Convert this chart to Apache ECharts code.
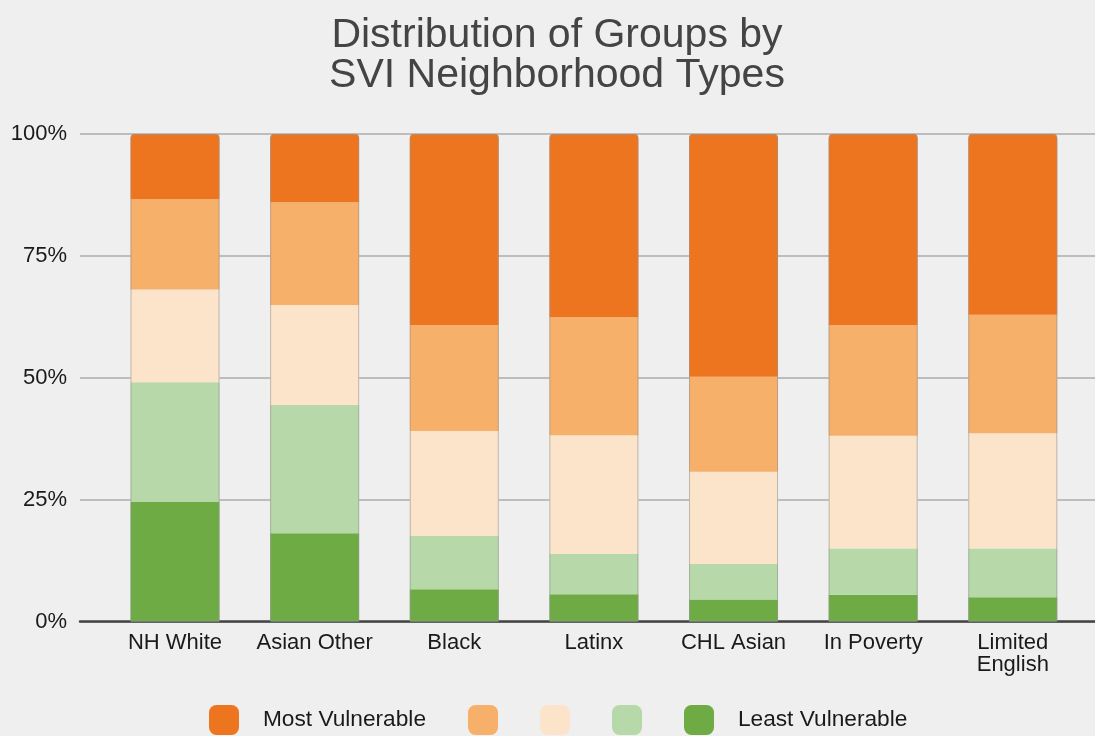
<!DOCTYPE html>
<html>
<head>
<meta charset="utf-8">
<script src="https://cdn.jsdelivr.net/npm/echarts@6/dist/echarts.min.js"></script>
<style>
html,body{margin:0;padding:0;background:#efefef;}
#chart{width:1095px;height:736px;}
</style>
</head>
<body>
<div id="chart"></div>
<script>
const categories = ['NH White', 'Asian Other', 'Black', 'Latinx', 'CHL Asian', 'In Poverty', 'Limited\nEnglish'];
const yTicks = [0, 25, 50, 75, 100];
const leastVulnerable = [24.5, 18.1, 6.6, 5.6, 4.5, 5.5, 5.0];
const level2 = [24.6, 26.3, 11.0, 8.3, 7.3, 9.5, 10.0];
const level3 = [19.0, 20.5, 21.5, 24.3, 18.9, 23.1, 23.6];
const level4 = [18.5, 21.1, 21.7, 24.2, 19.5, 22.7, 24.3];
const mostVulnerable = [13.4, 14.0, 39.2, 37.6, 49.8, 39.2, 37.1];
const totals = [100, 100, 100, 100, 100, 100, 100];

const colors = {
  most: '#ee7520',
  l4: '#f6b06a',
  l3: '#fce4cb',
  l2: '#b7d8a8',
  least: '#6eab45'
};

const FONT = 'Liberation Sans, Arial, sans-serif';
const chart = echarts.init(document.getElementById('chart'));

function seg(name, data, color, top) {
  return {
    name: name, type: 'bar', stack: 'svi', data: data,
    xAxisIndex: 1, yAxisIndex: 1,
    barWidth: 89,
    itemStyle: { color: color, borderRadius: top ? [4, 4, 0, 0] : 0 },
    emphasis: { disabled: true },
    z: 3
  };
}

chart.setOption({
  backgroundColor: '#efefef',
  animation: false,
  textStyle: { fontFamily: FONT },
  title: {
    text: 'Distribution of Groups by\nSVI Neighborhood Types',
    left: 557, top: 16, textAlign: 'center', padding: 0,
    textStyle: { fontFamily: FONT, fontSize: 41, fontWeight: 'normal', color: '#444', lineHeight: 40 }
  },
  legend: {
    data: ['Most Vulnerable', 'L4', 'L3', 'L2', 'Least Vulnerable'],
    left: 209, top: 705, padding: 0,
    itemWidth: 30, itemHeight: 30, itemGap: 42,
    icon: 'roundRect',
    formatter: function (n) { return (n === 'Most Vulnerable' || n === 'Least Vulnerable') ? '   ' + n : ''; },
    textStyle: { fontFamily: FONT, fontSize: 22.7, color: '#1a1a1a' },
    selectedMode: false
  },
  grid: [
    { left: 80, right: 0, top: 134, bottom: 114.5 },
    { left: 105.2, right: 12.4, top: 134, bottom: 114.5 }
  ],
  xAxis: [
    { type: 'category', gridIndex: 0, data: [''], axisTick: { show: false }, axisLabel: { show: false },
      axisLine: { show: true, lineStyle: { color: '#444', width: 2.5 } }, z: 1 },
    { type: 'category', gridIndex: 1, data: categories, axisTick: { show: false },
      axisLine: { show: false },
      axisLabel: { margin: 10, fontSize: 22, lineHeight: 22, color: '#1a1a1a', fontFamily: FONT, interval: 0 } }
  ],
  yAxis: [
    { type: 'value', gridIndex: 0, min: 0, max: 100, interval: 25,
      axisLine: { show: false }, axisTick: { show: false },
      axisLabel: { formatter: function (v) { return yTicks.indexOf(v) >= 0 ? v + '%' : ''; }, fontSize: 22, color: '#1a1a1a', margin: 13, fontFamily: FONT },
      splitLine: { show: true, lineStyle: { color: '#bdbdbd', width: 2 } } },
    { type: 'value', gridIndex: 1, min: 0, max: 100, interval: 25, show: false, splitLine: { show: false } }
  ],
  series: [
    seg('Least Vulnerable', leastVulnerable, colors.least, false),
    seg('L2', level2, colors.l2, false),
    seg('L3', level3, colors.l3, false),
    seg('L4', level4, colors.l4, false),
    seg('Most Vulnerable', mostVulnerable, colors.most, true),
    {
      name: 'outline', type: 'bar', data: totals, xAxisIndex: 1, yAxisIndex: 1,
      barWidth: 89, barGap: '-100%', silent: true,
      itemStyle: { color: 'rgba(0,0,0,0)', borderColor: 'rgba(150,150,150,0.6)', borderWidth: 1, borderRadius: [4, 4, 0, 0] },
      z: 4
    }
  ]
});
</script>
</body>
</html>
